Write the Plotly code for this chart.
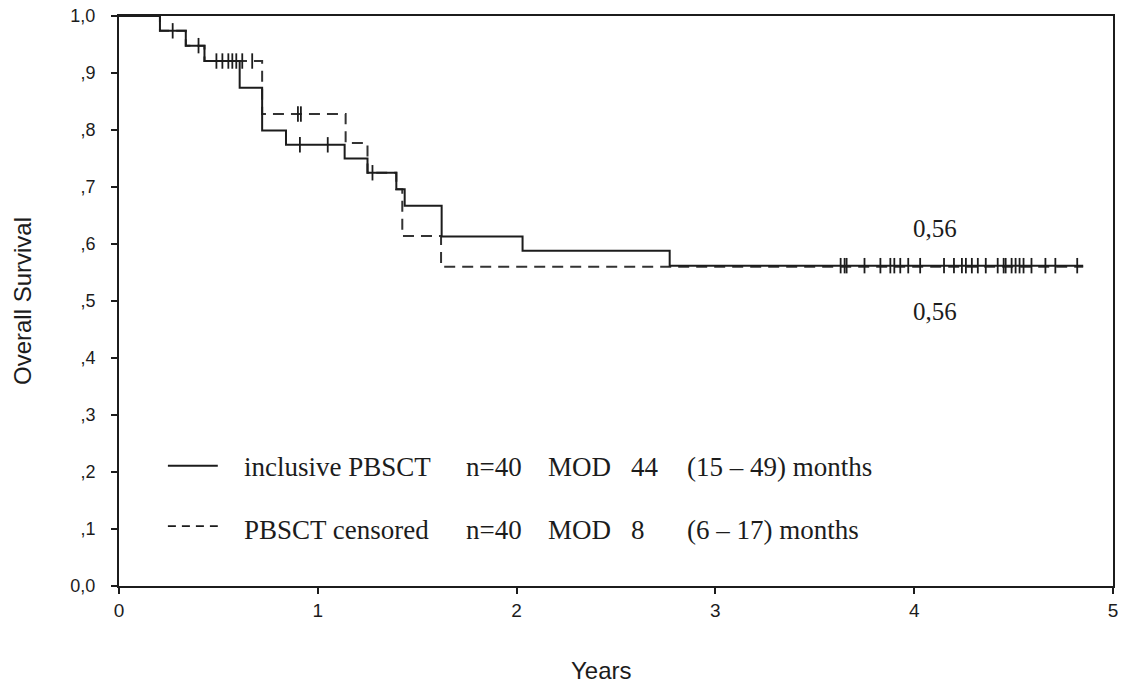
import plotly.graph_objects as go

# ---------------- data ----------------
# Kaplan-Meier step curves: event times (years) and survival after each event
solid_times = [0.0, 0.206, 0.336, 0.43, 0.607, 0.72, 0.84, 1.135, 1.25, 1.395, 1.437, 1.623, 2.03, 2.77]
solid_surv = [1.0, 0.974, 0.948, 0.921, 0.874, 0.799, 0.774, 0.750, 0.725, 0.696, 0.667, 0.613, 0.588, 0.562]

dashed_times = [0.0, 0.206, 0.336, 0.43, 0.72, 1.14, 1.25, 1.395, 1.425, 1.62]
dashed_surv = [1.0, 0.974, 0.948, 0.921, 0.828, 0.777, 0.725, 0.696, 0.614, 0.560]

follow_up_end = 4.85

# censoring marks (years)
solid_censor = [0.27, 0.40, 0.49, 0.52, 0.55, 0.57, 0.59, 0.91, 1.05, 1.275,
                3.63, 3.65, 3.66, 3.75, 3.83, 3.88, 3.90, 3.93, 3.97, 4.03,
                4.15, 4.20, 4.24, 4.26, 4.29, 4.32, 4.36, 4.42, 4.45, 4.46,
                4.49, 4.51, 4.53, 4.55, 4.59, 4.66, 4.71, 4.82]
dashed_censor = [0.62, 0.67, 0.90, 0.915]

# axis ticks
x_ticks = [0, 1, 2, 3, 4, 5]
y_ticks = [0.0, 0.1, 0.2, 0.3, 0.4, 0.5, 0.6, 0.7, 0.8, 0.9, 1.0]
y_tick_labels = ["0,0", ",1", ",2", ",3", ",4", ",5", ",6", ",7", ",8", ",9", "1,0"]

# legend text columns
legend_names = ["inclusive PBSCT", "PBSCT censored"]
legend_n = ["n=40", "n=40"]
legend_mod = ["MOD", "MOD"]
legend_mod_val = ["44", "8"]
legend_range = ["(15 – 49) months", "(6 – 17) months"]

final_labels = ["0,56", "0,56"]


def step_at(times, surv, t):
    v = surv[0]
    for ti, si in zip(times, surv):
        if ti <= t:
            v = si
    return v


SERIF = "Liberation Serif"
SANS = "Liberation Sans"
INK = "#1c1c1c"

fig = go.Figure()

# dashed curve
fig.add_trace(go.Scatter(
    x=dashed_times + [follow_up_end],
    y=dashed_surv + [dashed_surv[-1]],
    mode="lines", line=dict(shape="hv", color="#333333", width=2, dash="11px,7px"),
    showlegend=False, hoverinfo="skip"))

# solid curve
fig.add_trace(go.Scatter(
    x=solid_times + [follow_up_end],
    y=solid_surv + [solid_surv[-1]],
    mode="lines", line=dict(shape="hv", color=INK, width=2),
    showlegend=False, hoverinfo="skip"))

# censor marks
fig.add_trace(go.Scatter(
    x=solid_censor,
    y=[step_at(solid_times, solid_surv, t) for t in solid_censor],
    mode="markers",
    marker=dict(symbol="line-ns", size=11, line=dict(color=INK, width=1.8)),
    showlegend=False, hoverinfo="skip"))
fig.add_trace(go.Scatter(
    x=dashed_censor,
    y=[step_at(dashed_times, dashed_surv, t) for t in dashed_censor],
    mode="markers",
    marker=dict(symbol="line-ns", size=11, line=dict(color=INK, width=1.8)),
    showlegend=False, hoverinfo="skip"))

# final value labels
fig.add_annotation(x=4.106, y=0.627, text=final_labels[0], showarrow=False,
                   font=dict(family=SERIF, size=25, color=INK))
fig.add_annotation(x=4.106, y=0.482, text=final_labels[1], showarrow=False,
                   font=dict(family=SERIF, size=25, color=INK))

# legend (inside plot)
row_y = [0.209, 0.098]
line_y = [0.211, 0.105]
dashes = ["solid", "8px,6px"]
for i in range(2):
    fig.add_shape(type="line", x0=0.246, x1=0.497, y0=line_y[i], y1=line_y[i],
                  line=dict(color=INK, width=1.8, dash=dashes[i]))
    cols = [(0.621, legend_names[i]), (1.733, legend_n[i]), (2.149, legend_mod[i]),
            (2.565, legend_mod_val[i]), (2.846, legend_range[i])]
    for xc, txt in cols:
        fig.add_annotation(x=xc, y=row_y[i], text=txt, showarrow=False,
                           xanchor="left", yanchor="middle",
                           font=dict(family=SERIF, size=27, color=INK))

# x title
fig.add_annotation(xref="paper", yref="paper", x=0.485, y=-0.176, text="Years",
                   showarrow=False, font=dict(family=SANS, size=24, color=INK))

fig.update_xaxes(range=[0, 5], tickvals=x_ticks, ticktext=[str(v) for v in x_ticks],
                 ticks="outside", ticklen=6, tickwidth=1.5, tickcolor=INK,
                 showline=True, linecolor=INK, linewidth=2, mirror=True,
                 showgrid=False, zeroline=False,
                 tickfont=dict(family=SANS, size=19, color=INK))
fig.update_yaxes(range=[0, 1], tickvals=y_ticks, ticktext=y_tick_labels,
                 ticks="outside", ticklen=6, tickwidth=1.5, tickcolor=INK,
                 showline=True, linecolor=INK, linewidth=2, mirror=True,
                 showgrid=False, zeroline=False, ticklabelstandoff=12,
                 tickfont=dict(family=SANS, size=18, color=INK),
                 title=dict(text="Overall Survival", standoff=32,
                            font=dict(family=SANS, size=24, color=INK)))

fig.update_layout(width=1124, height=688,
                  margin=dict(l=119, r=6, t=12, b=102),
                  plot_bgcolor="white", paper_bgcolor="white")

fig.write_html("out.html", config={"displayModeBar": False},
               post_script="document.body.style.margin='0';")
